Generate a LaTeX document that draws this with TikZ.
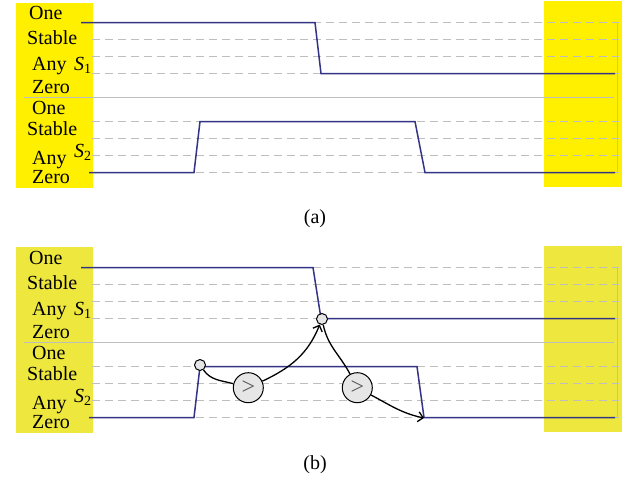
\documentclass[tikz,border=0pt]{standalone}
\usepackage{fontspec}
\setmainfont{Liberation Serif}
\usetikzlibrary{arrows.meta}
\definecolor{yelA}{RGB}{255,240,0}
\definecolor{yelB}{RGB}{238,232,62}
\definecolor{sig}{RGB}{52,52,135}
\definecolor{grid}{RGB}{190,190,190}
\definecolor{cfill}{RGB}{230,230,230}
\tikzset{
  gridline/.style={draw=grid,line width=1.5pt,dash pattern=on 8pt off 5pt},
  sepline/.style={draw=grid,line width=1.3pt},
  signal/.style={draw=sig,line width=1.5pt},
  lbl/.style={anchor=base west,inner sep=0pt,font=\fontsize{20}{24}\selectfont},
  captext/.style={anchor=base,inner sep=0pt,font=\fontsize{20}{24}\selectfont},
  dot/.style={circle,draw=black,fill=cfill,line width=1pt,minimum size=11pt,inner sep=0pt},
  cmp/.style={circle,draw=black,fill=cfill,line width=1pt,minimum size=30pt,inner sep=0pt,text=black!65,font=\fontsize{24}{26}\selectfont},
  flow/.style={draw=black,line width=1.3pt},
  flowarr/.style={flow,-{Straight Barb[length=5pt,width=10pt,line width=1.3pt]}}
}
\newcommand{\panelgrid}{%
  \foreach \yy in {22.5,39.5,56.5,73.5,121.5,138.5,155.5,172.5}
    \draw[gridline] (92,\yy) -- (619,\yy);
  \draw[sepline] (24,97.5) -- (614,97.5);
  \draw[sepline] (617.7,22.5) -- (617.7,172.5);
}
\newcommand{\panellabels}{%
  \node[lbl] (one1) at (29,19) {One};
  \node[lbl] (sta1) at (27,44.3) {Stable};
  \node[lbl] (any1) at (32,70) {Any};
  \node[lbl] (s1) at (74,70.5) {\textit{S}\textsubscript{1}};
  \node[lbl] (zer1) at (32,93) {Zero};
  \node[lbl] (one2) at (32,114) {One};
  \node[lbl] (sta2) at (27,135) {Stable};
  \node[lbl] (any2) at (32,164) {Any};
  \node[lbl] (s2) at (74,157) {\textit{S}\textsubscript{2}};
  \node[lbl] (zer2) at (32,183) {Zero};
}
\begin{document}
\begin{tikzpicture}[x=1pt,y=-1pt]
\useasboundingbox (0,0) rectangle (632,477);
\fill[white] (0,0) rectangle (632,477);
% ---------- panel (a)
\begin{scope}
  \fill[yelA] (15.7,2.7) rectangle (92.7,188);
  \fill[yelA] (544,1) rectangle (622,187);
  \panelgrid
  \draw[signal] (81,22.5) -- (315,22.5) -- (321,73.5) -- (615,73.5);
  \draw[signal] (89,172.5) -- (194,172.5) -- (200,121.5) -- (415,121.5) -- (425,172.5) -- (615,172.5);
  \panellabels
\end{scope}
\node[captext] (capa) at (315,223) {(a)};
% ---------- panel (b)
\begin{scope}[shift={(0,245)}]
  \fill[yelB] (15.7,2.3) rectangle (92.7,187.7);
  \fill[yelB] (544,0.7) rectangle (621.7,187);
  \panelgrid
  \draw[signal] (81,22.5) -- (313,22.5) -- (321,73.5) -- (615,73.5);
  \draw[signal] (89,172.5) -- (194,172.5) -- (200,121.5) -- (417,121.5) -- (424,172.5) -- (615,172.5);
  \panellabels
  \node[dot] (c1) at (200,120) {};
  \node[dot] (c2) at (322,74) {};
  \node[cmp] (g1) at (248.3,142.7) {>};
  \node[cmp] (g2) at (357.3,142.7) {>};
  \coordinate (t) at (424,173);
  \draw[flow] (c1) to[out=-55,in=165] (g1);
  \draw[flowarr] (g1) to[out=25,in=-112] (c2);
  \draw[flow] (c2) to[out=-78,in=118] (g2);
  \draw[flowarr] (g2) to[out=-28,in=168] (t);
\end{scope}
\node[captext] (capb) at (315,469) {(b)};
\end{tikzpicture}
\end{document}
